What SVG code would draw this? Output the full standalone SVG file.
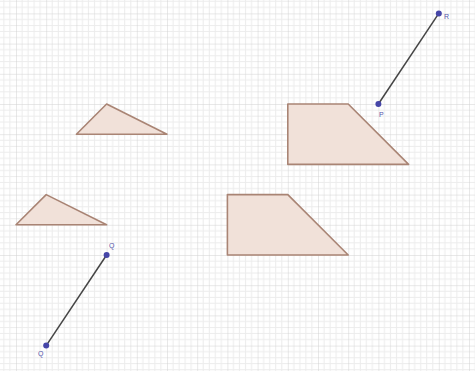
<svg xmlns="http://www.w3.org/2000/svg" width="475" height="371" viewBox="0 0 475 371">
<defs>
<pattern id="grid" patternUnits="userSpaceOnUse" x="16" y="13.4" width="30.2" height="30.2">
<path d="M6.04 0V30.2M12.08 0V30.2M18.12 0V30.2M24.16 0V30.2M0 6.04H30.2M0 12.08H30.2M0 18.12H30.2M0 24.16H30.2" stroke="#ececec" stroke-width="1" fill="none"/>
<path d="M0 0V30.2M0 0H30.2" stroke="#d2d2d2" stroke-width="1" fill="none"/>
</pattern>
<style>
.poly{fill:#f1e1d9;stroke:#a98474;stroke-width:1.6;stroke-linejoin:round}
.seg{stroke:#454545;stroke-width:1.5}
.pt{fill:#4646a8}
.lbl{font-family:"Liberation Sans",sans-serif;font-size:7px;fill:#5555aa}
</style>
</defs>
<rect width="475" height="371" fill="#ffffff"/>
<rect width="475" height="371" fill="url(#grid)"/>
<g id="tri1"><polygon class="poly" points="76.4,134.2 106.6,104 167,134.2"/></g>
<g id="tri2"><polygon class="poly" points="16,224.8 46.2,194.6 106.6,224.8"/></g>
<g id="trap1"><polygon class="poly" points="287.8,104 348.2,104 408.6,164.4 287.8,164.4"/></g>
<g id="trap2"><polygon class="poly" points="227.4,194.6 287.8,194.6 348.2,255 227.4,255"/></g>
<g id="connectors">
<line class="seg" x1="378.4" y1="104" x2="438.8" y2="13.4"/>
<line class="seg" x1="106.6" y1="255" x2="46.2" y2="345.6"/>
</g>
<g id="P"><circle class="pt" cx="378.4" cy="104" r="3"/><text class="lbl" x="379" y="117">P</text></g>
<g id="R"><circle class="pt" cx="438.8" cy="13.4" r="3"/><text class="lbl" x="444" y="19">R</text></g>
<g id="Q"><circle class="pt" cx="106.6" cy="255" r="3"/><text class="lbl" x="109" y="248">Q</text></g>
<g id="Q2"><circle class="pt" cx="46.2" cy="345.6" r="3"/><text class="lbl" x="38" y="356">Q</text></g>
</svg>
